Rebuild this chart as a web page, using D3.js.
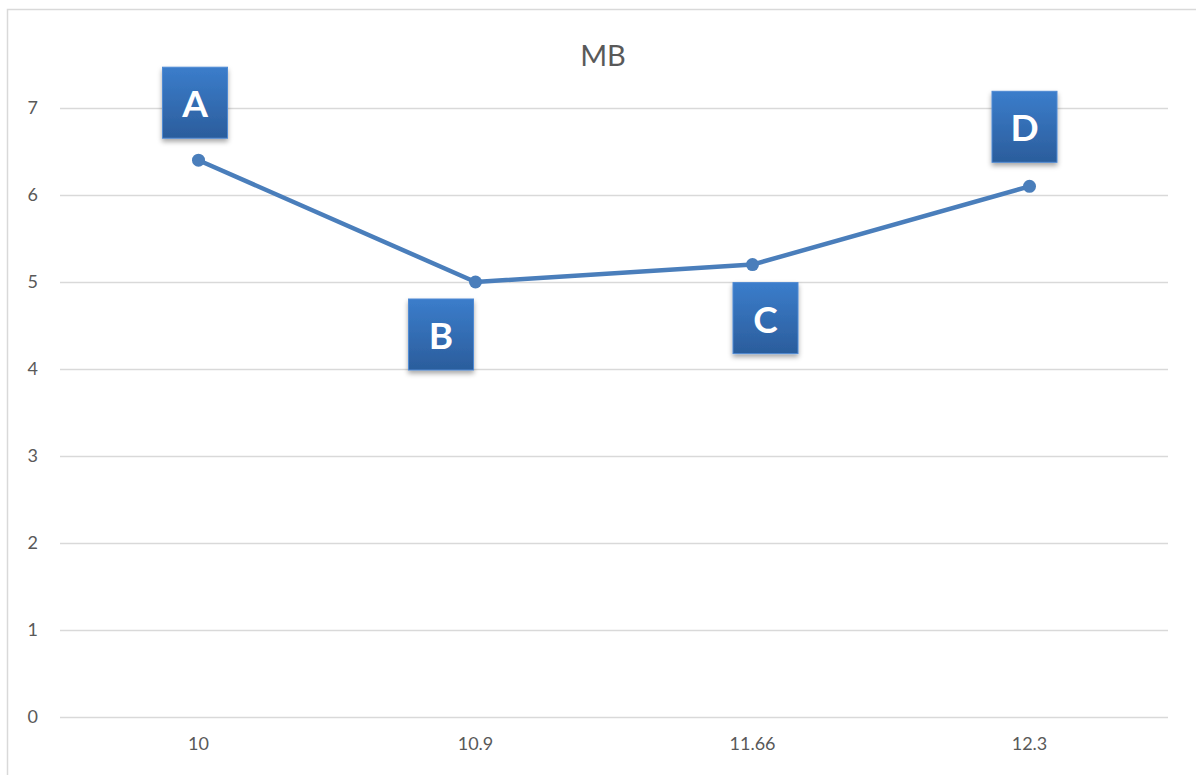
<!DOCTYPE html>
<html>
<head>
<meta charset="utf-8">
<script src="https://cdn.jsdelivr.net/npm/d3@7"></script>
<style>
  html, body { margin: 0; padding: 0; background: #fff; }
  svg { display: block; }
</style>
</head>
<body>
<svg id="chart" width="1196" height="775"></svg>
<script>
// Data
const categories = ["10", "10.9", "11.66", "12.3"];
const values = [6.4, 5.0, 5.2, 6.1];
const pointLabels = ["A", "B", "C", "D"];
const yTicks = [0, 1, 2, 3, 4, 5, 6, 7];
const chartTitle = "MB";

// Label box placement relative to each point (dx of box centre, gap to box edge)
const labelPlacement = [
  { dx: -3.5, above: true,  gap: 22 },
  { dx: -34.5, above: false, gap: 17 },
  { dx: 13,   above: false, gap: 18 },
  { dx: -5,   above: true,  gap: 24 }
];

const W = 1196, H = 775;
const plot = { left: 60, right: 1168, top: 108, bottom: 717 };
const font = "Lato, 'Open Sans', sans-serif";
const textColor = "#595959";
const lineColor = "#4a7ebb";

const svg = d3.select("#chart");

// defs: gradient + shadow for label boxes
const defs = svg.append("defs");
const grad = defs.append("linearGradient")
  .attr("id", "boxGrad").attr("x1", 0).attr("y1", 0).attr("x2", 0).attr("y2", 1);
grad.append("stop").attr("offset", "0%").attr("stop-color", "#3b7dcb");
grad.append("stop").attr("offset", "100%").attr("stop-color", "#2b5d9c");
const shadow = defs.append("filter").attr("id", "boxShadow")
  .attr("x", "-20%").attr("y", "-20%").attr("width", "140%").attr("height", "150%");
shadow.append("feDropShadow").attr("dx", 0).attr("dy", 3).attr("stdDeviation", 2.5)
  .attr("flood-color", "#000").attr("flood-opacity", 0.35);

// chart border
svg.append("rect")
  .attr("x", 7.5).attr("y", 9.5).attr("width", 1200).attr("height", 800)
  .attr("fill", "none").attr("stroke", "#d9d9d9").attr("stroke-width", 1.5);

const x = d3.scaleBand().domain(categories).range([plot.left, plot.right]);
const y = d3.scaleLinear().domain([0, 7]).range([plot.bottom, plot.top]);

// gridlines
svg.append("g").selectAll("line").data(yTicks).join("line")
  .attr("x1", plot.left).attr("x2", plot.right)
  .attr("y1", d => Math.round(y(d)) + 0.5).attr("y2", d => Math.round(y(d)) + 0.5)
  .attr("stroke", "#d9d9d9").attr("stroke-width", 1.5);

// y axis labels
const yAxis = svg.append("g")
  .attr("transform", `translate(${plot.left - 22},0)`)
  .call(d3.axisLeft(y).tickValues(yTicks).tickSize(0).tickPadding(0).tickFormat(d3.format("d")));
yAxis.select(".domain").remove();
yAxis.selectAll("text")
  .attr("font-family", font).attr("font-size", 18).attr("fill", textColor)
  .attr("text-anchor", "end").attr("x", 0);

// x axis labels
const xAxis = svg.append("g")
  .attr("transform", `translate(0,${plot.bottom + 20})`)
  .call(d3.axisBottom(x).tickSize(0).tickPadding(0));
xAxis.select(".domain").remove();
xAxis.selectAll("text")
  .attr("font-family", font).attr("font-size", 18).attr("fill", textColor);

// title
svg.append("text")
  .attr("x", 603).attr("y", 66)
  .attr("text-anchor", "middle")
  .attr("font-family", font).attr("font-size", 29).attr("fill", textColor)
  .text(chartTitle);

// line
const pts = categories.map((c, i) => ({ c, v: values[i], label: pointLabels[i], place: labelPlacement[i] }));
const px = d => x(d.c) + x.bandwidth() / 2;

svg.append("path")
  .datum(pts)
  .attr("d", d3.line().x(px).y(d => y(d.v)))
  .attr("fill", "none").attr("stroke", lineColor).attr("stroke-width", 4.5)
  .attr("stroke-linejoin", "round").attr("stroke-linecap", "round");

svg.append("g").selectAll("circle").data(pts).join("circle")
  .attr("cx", px).attr("cy", d => y(d.v)).attr("r", 6.5)
  .attr("fill", lineColor);

// label boxes
const boxW = 65, boxH = 71;
const lbl = svg.append("g").selectAll("g").data(pts).join("g")
  .attr("transform", d => {
    const cx = px(d) + d.place.dx;
    const top = d.place.above ? y(d.v) - d.place.gap - boxH : y(d.v) + d.place.gap;
    return `translate(${cx - boxW / 2},${top})`;
  });
lbl.append("rect")
  .attr("width", boxW).attr("height", boxH)
  .attr("fill", "url(#boxGrad)")
  .attr("stroke", "#4f8ad3").attr("stroke-width", 1)
  .attr("filter", "url(#boxShadow)");
lbl.append("text")
  .attr("x", boxW / 2).attr("y", 50)
  .attr("text-anchor", "middle")
  .attr("font-family", font).attr("font-weight", "bold").attr("font-size", 37)
  .attr("fill", "#fff")
  .text(d => d.label);
</script>
</body>
</html>
